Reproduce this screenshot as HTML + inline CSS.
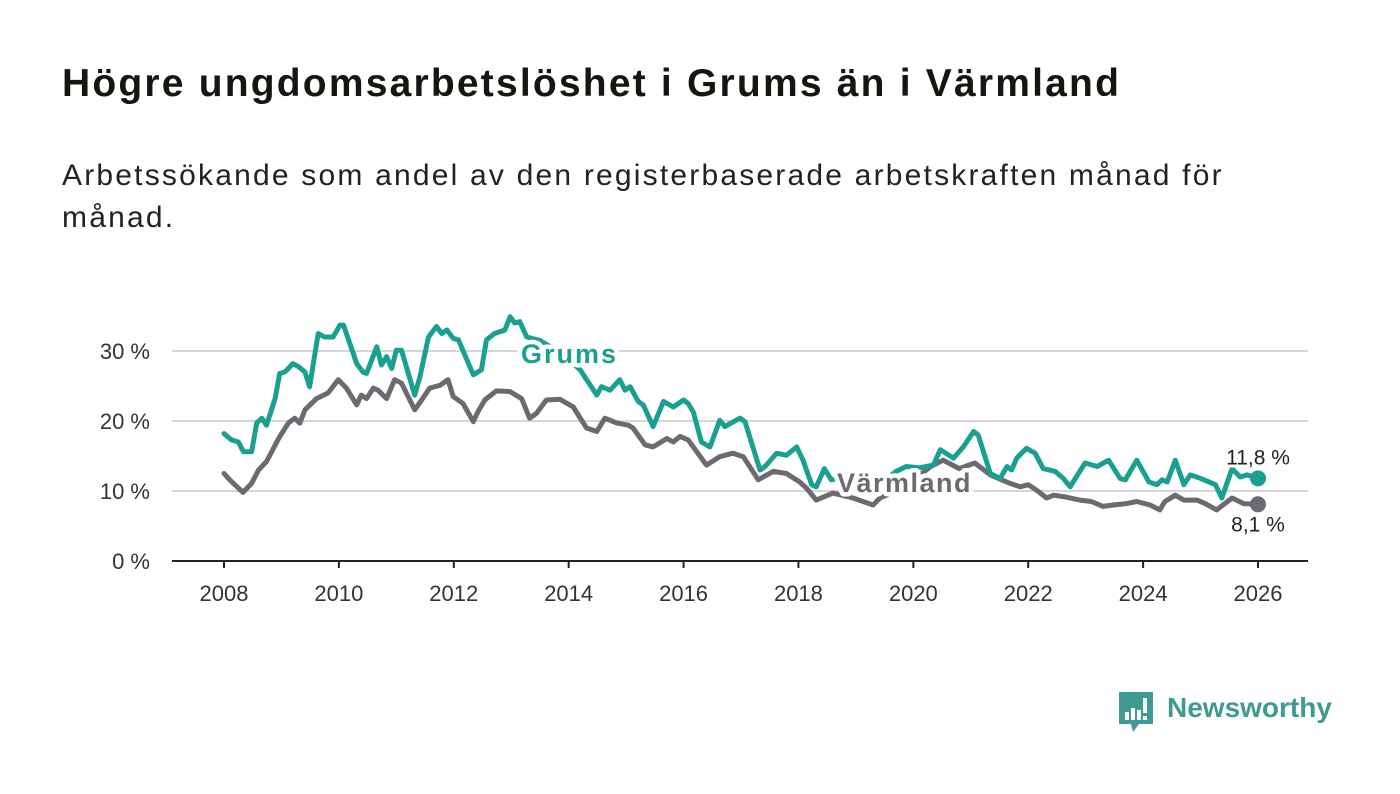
<!DOCTYPE html>
<html><head><meta charset="utf-8">
<style>
body{margin:0;background:#fff;width:1400px;height:794px;overflow:hidden;font-family:"Liberation Sans",sans-serif;}
h1{position:absolute;left:62px;top:62px;margin:0;font-size:39px;font-weight:bold;color:#161610;letter-spacing:2.2px;white-space:nowrap;}
.sub{position:absolute;left:62px;top:155px;width:1220px;font-size:30px;letter-spacing:2.2px;line-height:42px;color:#222;margin:0;}
svg{position:absolute;left:0;top:0;}
</style></head><body>
<h1>Högre ungdomsarbetslöshet i Grums än i Värmland</h1>
<p class="sub">Arbetssökande som andel av den registerbaserade arbetskraften månad för månad.</p>
<svg id="chart" width="1400" height="794"></svg>
<script>
const grumsT=[2008.0,2008.13,2008.25,2008.34,2008.48,2008.57,2008.66,2008.74,2008.89,2008.97,2009.06,2009.2,2009.29,2009.41,2009.49,2009.64,2009.75,2009.9,2010.02,2010.08,2010.31,2010.42,2010.48,2010.66,2010.74,2010.83,2010.92,2011.0,2011.09,2011.32,2011.41,2011.56,2011.7,2011.79,2011.88,2011.99,2012.08,2012.34,2012.48,2012.57,2012.71,2012.89,2012.98,2013.06,2013.15,2013.27,2013.5,2013.8,2014.0,2014.2,2014.49,2014.57,2014.72,2014.89,2014.98,2015.07,2015.21,2015.3,2015.47,2015.65,2015.82,2016.0,2016.08,2016.17,2016.31,2016.46,2016.63,2016.72,2016.98,2017.07,2017.33,2017.42,2017.62,2017.79,2017.97,2018.08,2018.23,2018.31,2018.45,2018.57,2018.8,2019.0,2019.3,2019.5,2019.7,2019.88,2020.1,2020.35,2020.47,2020.7,2020.87,2021.05,2021.13,2021.34,2021.51,2021.63,2021.71,2021.8,2021.97,2022.12,2022.26,2022.47,2022.61,2022.73,2022.82,2022.99,2023.2,2023.4,2023.6,2023.69,2023.89,2024.1,2024.24,2024.33,2024.42,2024.56,2024.71,2024.82,2025.0,2025.26,2025.37,2025.55,2025.69,2025.81,2026.0];
const grumsV=[18.2,17.3,17.0,15.6,15.6,19.7,20.4,19.4,23.2,26.8,27.0,28.2,27.8,27.0,24.9,32.5,32.0,32.0,33.7,33.7,28.2,27.0,26.8,30.6,28.0,29.2,27.5,30.1,30.1,23.7,26.3,32.0,33.5,32.5,33.0,31.8,31.6,26.6,27.3,31.6,32.5,33.0,34.9,34.0,34.2,32.0,31.5,30.0,28.8,27.3,23.7,24.9,24.4,25.9,24.4,24.9,22.8,22.3,19.2,22.8,22.0,23.0,22.5,21.3,17.0,16.3,20.1,19.2,20.4,19.9,13.0,13.5,15.4,15.1,16.3,14.4,10.9,10.6,13.2,11.6,12.0,11.5,10.0,11.5,12.8,13.5,13.3,13.7,15.9,14.7,16.3,18.5,18.0,12.5,11.8,13.5,13.0,14.7,16.1,15.4,13.2,12.8,11.8,10.6,11.8,14.0,13.5,14.4,11.8,11.6,14.4,11.3,10.9,11.6,11.3,14.4,10.9,12.3,11.8,10.9,9.0,13.2,12.0,12.3,11.8];
const varmT=[2008.0,2008.1,2008.33,2008.48,2008.6,2008.74,2008.95,2009.12,2009.23,2009.32,2009.41,2009.61,2009.81,2009.99,2010.13,2010.31,2010.39,2010.48,2010.6,2010.68,2010.83,2010.97,2011.09,2011.32,2011.44,2011.58,2011.76,2011.9,2011.99,2012.16,2012.34,2012.42,2012.54,2012.74,2012.98,2013.18,2013.32,2013.44,2013.61,2013.85,2014.08,2014.31,2014.49,2014.63,2014.84,2015.04,2015.12,2015.33,2015.47,2015.71,2015.82,2015.94,2016.08,2016.23,2016.4,2016.63,2016.86,2017.04,2017.3,2017.56,2017.79,2018.02,2018.14,2018.31,2018.6,2018.95,2019.3,2019.42,2019.7,2020.0,2020.3,2020.52,2020.8,2021.07,2021.34,2021.68,2021.86,2022.0,2022.15,2022.32,2022.44,2022.61,2022.9,2023.1,2023.3,2023.48,2023.71,2023.89,2024.12,2024.29,2024.38,2024.56,2024.71,2024.94,2025.08,2025.28,2025.55,2025.75,2026.0];
const varmV=[12.5,11.6,9.8,11.1,13.0,14.2,17.5,19.7,20.4,19.7,21.6,23.2,24.0,25.9,24.7,22.3,23.7,23.2,24.7,24.4,23.2,25.9,25.4,21.6,23.0,24.7,25.1,25.9,23.5,22.5,19.9,21.3,23.0,24.3,24.2,23.2,20.4,21.1,23.0,23.1,22.0,19.0,18.5,20.4,19.7,19.4,19.0,16.6,16.3,17.5,17.0,17.8,17.3,15.6,13.7,14.9,15.4,14.9,11.6,12.8,12.5,11.3,10.4,8.7,9.7,9.0,8.0,9.0,10.0,11.5,13.5,14.4,13.2,14.0,12.3,11.1,10.6,10.9,10.1,9.0,9.4,9.2,8.7,8.5,7.8,8.0,8.2,8.5,8.0,7.3,8.5,9.4,8.7,8.7,8.2,7.3,9.0,8.2,8.1];
const yTicks=[0,10,20,30];
const xTicks=[2008,2010,2012,2014,2016,2018,2020,2022,2024,2026];
const grumsLast="11,8 %", varmLast="8,1 %";

const NS="http://www.w3.org/2000/svg";
const svg=document.getElementById('chart');
const X=t=>224+(t-2008)*(1258-224)/18;
const Y=v=>561-v*7;
function el(tag,attrs,parent){const e=document.createElementNS(NS,tag);for(const k in attrs)e.setAttribute(k,attrs[k]);(parent||svg).appendChild(e);return e;}

yTicks.forEach(v=>{
  if(v>0){const g=el('line',{x1:172,x2:1308,y1:Y(v),y2:Y(v),stroke:'#d6d6d6','stroke-width':2});
  
  }
  const t=el('text',{x:150,y:Y(v)+8,'text-anchor':'end','font-size':22,fill:'#333'});
  t.textContent=v+' %';
  
  
});
const ax=el('line',{x1:172,x2:1308,y1:561,y2:561,stroke:'#222','stroke-width':2});


xTicks.forEach(yr=>{
  const tk=el('line',{x1:X(yr),x2:X(yr),y1:561,y2:568,stroke:'#222','stroke-width':2});
  
  
  const t=el('text',{x:X(yr),y:601,'text-anchor':'middle','font-size':22,fill:'#333'});
  t.textContent=yr;
  
  
});
function line(T,V,color,name){
  const d=T.map((t,i)=>(i?'L':'M')+X(t).toFixed(1)+','+Y(V[i]).toFixed(1)).join('');
  const p=el('path',{d:d,fill:'none',stroke:color,'stroke-width':5,'stroke-linejoin':'round','stroke-linecap':'round'});
  
  
}
line(varmT,varmV,'#6c6a70','varmland-line');
line(grumsT,grumsV,'#1aa091','grums-line');
function label(txt,x,y,color,name,size,bold,ls){
  const t=el('text',{x:x,y:y,'font-size':size,'font-weight':bold?'bold':'normal','letter-spacing':ls||0,fill:color,stroke:'#fff','stroke-width':bold?9:6,'paint-order':'stroke','stroke-linejoin':'round'});
  t.textContent=txt;
  
  
  return t;
}
label('Grums',521,363,'#1aa091','grums-series-label',27,true,2);
label('Värmland',837,492,'#6c6a70','varmland-series-label',27,true,1.5);
const gx=X(grumsT[grumsT.length-1]), gy=Y(grumsV[grumsV.length-1]);
const vx=X(varmT[varmT.length-1]), vy=Y(varmV[varmV.length-1]);
const c1=el('circle',{cx:gx,cy:gy,r:8,fill:'#1aa091'});


const c2=el('circle',{cx:vx,cy:vy,r:8,fill:'#6c6a70'});


const l1=label(grumsLast,gx,gy-14,'#222','grums-end-value',21,false);l1.setAttribute('text-anchor','middle');
const l2=label(varmLast,vx,vy+27,'#222','varmland-end-value',21,false);l2.setAttribute('text-anchor','middle');
</script>
<div style="position:absolute;left:1119px;top:692px;">
  <svg width="36" height="42" viewBox="0 0 36 42" style="position:absolute;left:0;top:0">
    <path d="M0 0H34V32H20L14 40L12 32H0Z" fill="#3e9a92"/>
    <rect x="6" y="20" width="4" height="8" fill="#fff"/><rect x="12" y="16" width="4" height="12" fill="#fff"/><rect x="18" y="18" width="4" height="10" fill="#fff"/><rect x="24" y="6" width="4" height="15" fill="#fff"/><rect x="24" y="24" width="4" height="4" fill="#fff"/>
  </svg>
  <span style="position:absolute;left:48px;top:0px;font-size:28px;font-weight:bold;color:#3e9a92;white-space:nowrap;">Newsworthy</span>
</div>
</body></html>
